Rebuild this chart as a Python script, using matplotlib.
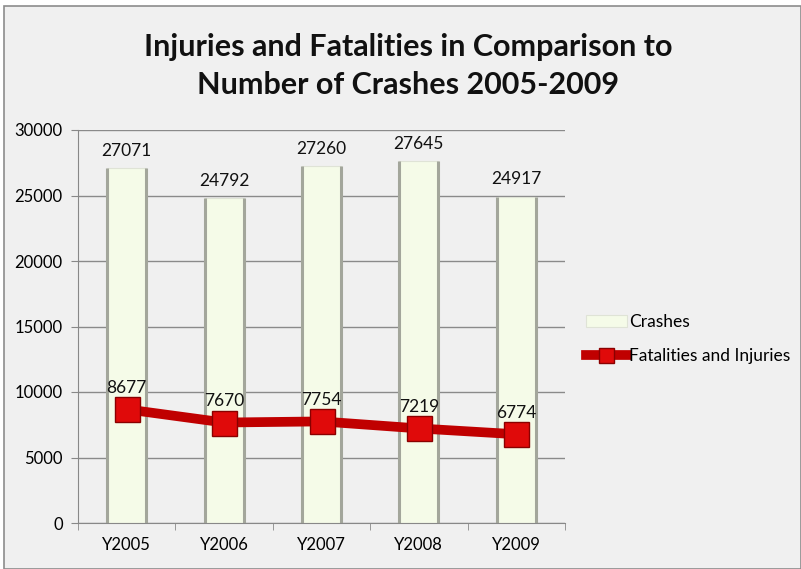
import matplotlib.pyplot as plt
import numpy as np
from matplotlib.patches import Rectangle

years = ['Y2005', 'Y2006', 'Y2007', 'Y2008', 'Y2009']
crashes = [27071, 24792, 27260, 27645, 24917]
fatal_injuries = [8677, 7670, 7754, 7219, 6774]
yticks = [0, 5000, 10000, 15000, 20000, 25000, 30000]

plt.rcParams['font.family'] = ['Lato', 'DejaVu Sans']

W, H = 801, 569
fig = plt.figure(figsize=(W / 100, H / 100), dpi=100)
fig.patch.set_facecolor('white')

# chart frame with a pale grey fill
frame = Rectangle((4 / W, 0), (W - 4) / W, (H - 6) / H, transform=fig.transFigure,
                  facecolor='#f0f0f0', edgecolor='#8c8c8c', linewidth=1.2, zorder=-10)
fig.patches.append(frame)

ax = fig.add_axes([78 / W, 1 - 523 / H, (565 - 78) / W, (523 - 130) / H])
ax.set_facecolor('none')

x = np.arange(len(years))
bw = 0.4
ax.bar(x, crashes, width=bw, color='#f5fbe8', edgecolor='#dfe3d6', linewidth=0.8,
       label='Crashes', zorder=2)
# darker side edges on the columns
ax.vlines(np.concatenate([x - bw / 2, x + bw / 2]), 0, crashes + crashes,
          color='#a3a69b', linewidth=2.2, zorder=2)
ax.plot(x, fatal_injuries, color='#c00000', linewidth=7, marker='s', markersize=18,
        markerfacecolor='#e00a0a', markeredgecolor='#8a0000', markeredgewidth=1,
        label='Fatalities and Injuries', zorder=3)

for xi, v in zip(x, crashes):
    ax.text(xi, v + 700, str(v), ha='center', va='bottom', fontsize=12.5, color='#111111')
for xi, v in zip(x, fatal_injuries):
    ax.text(xi, v + 1000, str(v), ha='center', va='bottom', fontsize=12.5, color='#111111')

ax.set_xlim(-0.5, len(years) - 0.5)
ax.set_ylim(0, 30000)
ax.set_yticks(yticks)
ax.set_yticklabels([str(t) for t in yticks], fontsize=12)
ax.set_xticks(x)
ax.set_xticklabels(years, fontsize=12)
ax.set_xticks(np.arange(len(years) + 1) - 0.5, minor=True)
ax.tick_params(axis='x', which='major', length=0, pad=10)
ax.tick_params(axis='x', which='minor', length=5, color='#888888')
ax.tick_params(axis='y', length=5, color='#888888', pad=6)
ax.grid(axis='y', color='#8a8a8a', linewidth=1, zorder=0)
ax.set_axisbelow(True)
for s in ['top', 'right']:
    ax.spines[s].set_visible(False)
ax.spines['left'].set_color('#888888')
ax.spines['bottom'].set_color('#888888')

fig.text(408 / W, 1 - 47 / H, 'Injuries and Fatalities in Comparison to', ha='center',
         va='center', fontsize=22, fontweight='bold', color='#111111')
fig.text(408 / W, 1 - 85 / H, 'Number of Crashes 2005-2009', ha='center',
         va='center', fontsize=22, fontweight='bold', color='#111111')

handles, labels = ax.get_legend_handles_labels()
order = [labels.index('Crashes'), labels.index('Fatalities and Injuries')]
fig.legend([handles[i] for i in order], [labels[i] for i in order],
           loc='center left', bbox_to_anchor=(570 / W, 1 - 339 / H), frameon=False,
           fontsize=12.5, handlelength=2.4, handletextpad=0.1, labelspacing=1.0,
           markerscale=0.6)

fig.savefig('out.png', dpi=100)
